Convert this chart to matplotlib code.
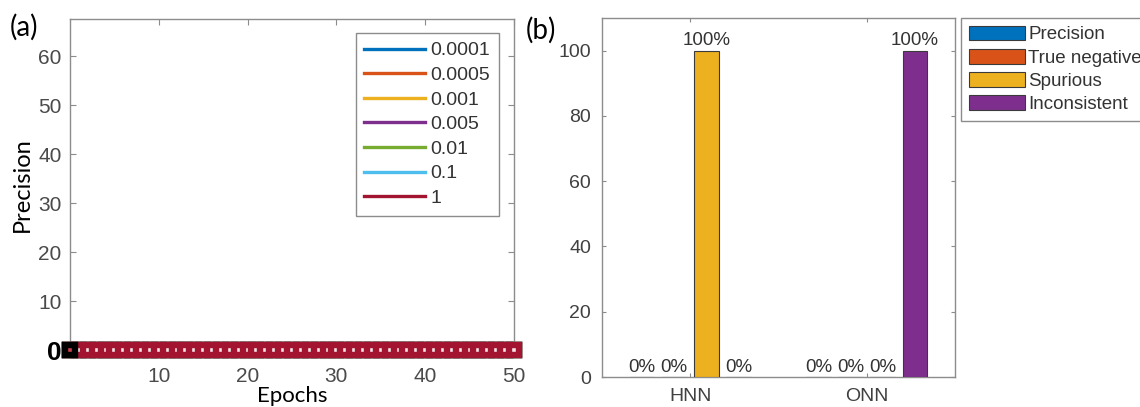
import numpy as np
import matplotlib.pyplot as plt
from matplotlib.lines import Line2D

# (a) precision vs epochs for each learning rate
epochs = list(range(0, 51))
learning_rates = ["0.0001", "0.0005", "0.001", "0.005", "0.01", "0.1", "1"]
precision_curves = {lr: [0] * len(epochs) for lr in learning_rates}
lr_colors = ["#0072BD", "#D95319", "#EDB120", "#7E2F8E",
             "#77AC30", "#4DBEEE", "#A2142F"]

# (b) outcome percentages per network
networks = ["HNN", "ONN"]
outcomes = ["Precision", "True negative", "Spurious", "Inconsistent"]
outcome_values = {
    "Precision": [0, 0],
    "True negative": [0, 0],
    "Spurious": [100, 0],
    "Inconsistent": [0, 100],
}
outcome_colors = ["#0072BD", "#D95319", "#EDB120", "#7E2F8E"]

W, H = 1140, 407
fig = plt.figure(figsize=(W / 100, H / 100), dpi=100)


def px_axes(x0, y0, x1, y1):
    """Axes from pixel box (top-left origin)."""
    return fig.add_axes([x0 / W, 1 - y1 / H, (x1 - x0) / W, (y1 - y0) / H])


label_font = ["Lato", "DejaVu Sans"]
tick_font = ["Liberation Sans", "DejaVu Sans"]
spine_gray = "#8c8c8c"

# ---------------- (a) ----------------
ax1 = px_axes(70, 19, 514, 350)
for lr, c in zip(learning_rates, lr_colors):
    ax1.plot(epochs, precision_curves[lr], color=c, lw=2, marker="s",
             ms=7, mew=4.6, mfc="#f4e6e8", mec=c, clip_on=False, zorder=3)
ax1.plot(epochs[:1], precision_curves["0.0001"][:1], ls="none", marker="s",
         ms=7, mew=4.6, mfc="#d04050", mec="black", clip_on=False,
         zorder=4)

ax1.set_xlim(0, 50)
ax1.set_ylim(0, 67.6)
ax1.set_xticks([10, 20, 30, 40, 50])
ax1.set_yticks([0, 10, 20, 30, 40, 50, 60])
ax1.tick_params(direction="in", top=True, right=True, length=4,
                width=0.8, color=spine_gray, labelsize=15,
                labelcolor="#4a4a4a")
ax1.tick_params(axis="x", pad=12)
ax1.tick_params(axis="y", pad=6)
for lab in ax1.get_xticklabels() + ax1.get_yticklabels():
    lab.set_fontfamily(tick_font)
zero_lab = ax1.get_yticklabels()[0]
zero_lab.set_fontsize(19)
zero_lab.set_fontweight("bold")
zero_lab.set_color("black")
for s in ax1.spines.values():
    s.set_color(spine_gray)
    s.set_linewidth(1)
ax1.set_xlabel("Epochs", fontsize=16, family=label_font, labelpad=0)
ax1.set_ylabel("Precision", fontsize=17, family=label_font, labelpad=4)

handles = [Line2D([], [], color=c, lw=2.4) for c in lr_colors]
leg1 = ax1.legend(handles, learning_rates, loc="upper right",
                  bbox_to_anchor=(499 / W, 1 - 33 / H),
                  bbox_transform=fig.transFigure, borderaxespad=0,
                  prop={"family": tick_font, "size": 14},
                  handlelength=3.1, handletextpad=0.3, labelspacing=0.36,
                  borderpad=0.45, fancybox=False, framealpha=1,
                  edgecolor=spine_gray)
for t in leg1.get_texts():
    t.set_color("#333333")

# ---------------- (b) ----------------
ax2 = px_axes(602, 18, 955, 377)
x = np.arange(1, len(networks) + 1)
offsets = [-0.273, -0.091, 0.091, 0.273]
bar_w = 0.14
for name, off, c in zip(outcomes, offsets, outcome_colors):
    bars = ax2.bar(x + off, outcome_values[name], bar_w, color=c,
                   edgecolor="#3a3a3a", linewidth=0.8, label=name, zorder=3)
    ax2.bar_label(bars, fmt="%d%%", padding=1, fontsize=13.5,
                  family=tick_font, color="#333333")

ax2.set_xlim(0.5, 2.5)
ax2.set_ylim(0, 110)
ax2.set_xticks(x)
ax2.set_xticklabels(networks)
ax2.set_yticks([0, 20, 40, 60, 80, 100])
ax2.tick_params(direction="in", top=True, right=True, length=3,
                width=0.8, color=spine_gray, labelsize=14,
                labelcolor="#404040", pad=8)
for lab in ax2.get_xticklabels() + ax2.get_yticklabels():
    lab.set_fontfamily(tick_font)
for s in ax2.spines.values():
    s.set_color(spine_gray)
    s.set_linewidth(1)

leg2 = ax2.legend(loc="upper left", bbox_to_anchor=(961 / W, 1 - 18 / H),
                  bbox_transform=fig.transFigure, borderaxespad=0,
                  prop={"family": tick_font, "size": 13.5},
                  handlelength=3.0, handleheight=0.85, handletextpad=0.2,
                  labelspacing=0.28, borderpad=0.4, fancybox=False,
                  framealpha=1, edgecolor=spine_gray)
for t in leg2.get_texts():
    t.set_color("#333333")

fig.text(10 / W, 1 - 27 / H, "(a)", fontsize=20, family=label_font,
         va="center", ha="left")
fig.text(526 / W, 1 - 30 / H, "(b)", fontsize=20, family=label_font,
         va="center", ha="left")

fig.savefig("out.png", dpi=100)
